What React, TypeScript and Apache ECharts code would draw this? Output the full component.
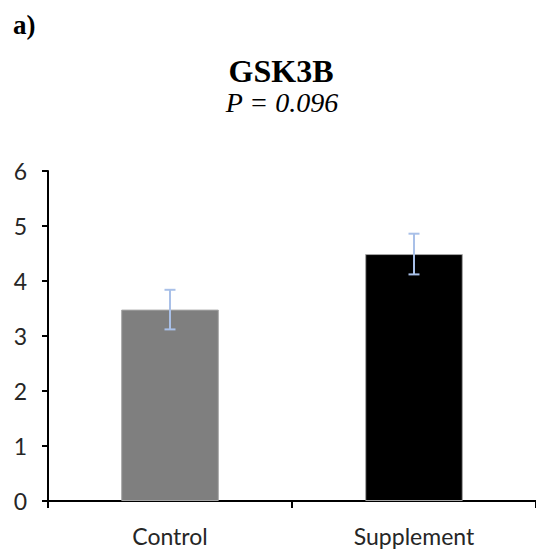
import React, { useEffect, useRef } from "react";
import * as echarts from "echarts";

const categories = ["Control", "Supplement"];
const means = [3.48, 4.49];
const errors = [0.36, 0.37];
const barColors = ["#7f7f7f", "#000000"];
const yTicks = [0, 1, 2, 3, 4, 5, 6];

export default function App() {
  const ref = useRef<HTMLDivElement>(null);
  useEffect(() => {
    document.body.style.margin = "0";
    const chart = echarts.init(ref.current!, null, { renderer: "svg" });
    chart.setOption({
      animation: false,
      backgroundColor: "#ffffff",
      grid: { left: 48, top: 171, width: 492, height: 330, containLabel: false },
      graphic: [
        {
          type: "text",
          left: 13,
          top: 11,
          style: { text: "a)", font: "bold 27px 'Liberation Serif'", fill: "#000" },
        },
        {
          type: "text",
          x: 281,
          y: 55,
          style: {
            text: "GSK3B",
            font: "bold 32px 'Liberation Serif'",
            fill: "#000",
            textAlign: "center",
            textVerticalAlign: "top",
          },
        },
        {
          type: "text",
          x: 282,
          y: 88,
          style: {
            text: "P = 0.096",
            font: "italic 28px 'Liberation Serif'",
            fill: "#000",
            textAlign: "center",
            textVerticalAlign: "top",
          },
        },
      ],
      xAxis: {
        type: "category",
        data: categories,
        boundaryGap: true,
        axisLine: { show: true, lineStyle: { color: "#000", width: 2 } },
        axisTick: { show: true, length: 7, lineStyle: { color: "#000", width: 2 } },
        axisLabel: {
          color: "#262626",
          fontFamily: "Lato",
          fontSize: 23,
          margin: 23,
        },
        splitLine: { show: false },
      },
      yAxis: {
        type: "value",
        min: yTicks[0],
        max: yTicks[yTicks.length - 1],
        interval: 1,
        axisLine: { show: true, lineStyle: { color: "#000", width: 2 } },
        axisTick: { show: true, length: 6, lineStyle: { color: "#000", width: 2 } },
        axisLabel: {
          color: "#262626",
          fontFamily: "Lato",
          fontSize: 23,
          margin: 21,
        },
        splitLine: { show: false },
      },
      series: [
        {
          type: "bar",
          barWidth: "40%",
          data: means.map((v, i) => ({
            value: v,
            itemStyle: { color: barColors[i], borderColor: "#a6a6a6", borderWidth: 1 },
          })),
        },
        {
          type: "custom",
          data: means.map((v, i) => [i, v - errors[i], v + errors[i]]),
          renderItem: (params: any, api: any) => {
            const x = api.value(0);
            const lo = api.coord([x, api.value(1)]);
            const hi = api.coord([x, api.value(2)]);
            const half = 5.5;
            const style = { stroke: "#a9c0e8", lineWidth: 2 };
            return {
              type: "group",
              children: [
                { type: "line", shape: { x1: hi[0], y1: hi[1], x2: lo[0], y2: lo[1] }, style },
                { type: "line", shape: { x1: hi[0] - half, y1: hi[1], x2: hi[0] + half, y2: hi[1] }, style },
                { type: "line", shape: { x1: lo[0] - half, y1: lo[1], x2: lo[0] + half, y2: lo[1] }, style },
              ],
            };
          },
          z: 10,
        },
      ],
    });
    return () => chart.dispose();
  }, []);
  return <div ref={ref} style={{ width: 536, height: 554 }} />;
}
